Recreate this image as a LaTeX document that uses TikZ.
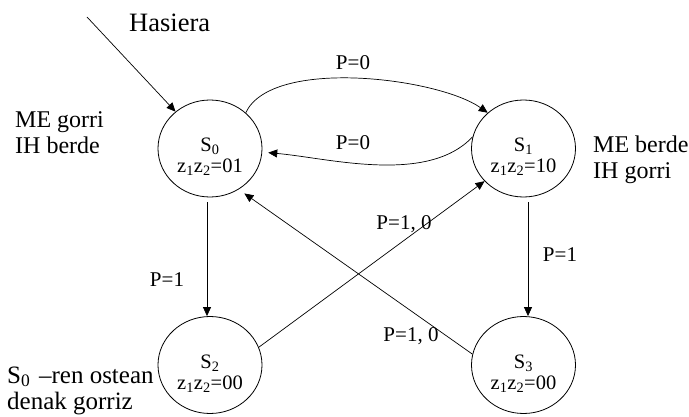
\documentclass[tikz,border=0pt]{standalone}
\usepackage{fontspec}
\setmainfont{Liberation Serif}
\usetikzlibrary{shapes.geometric,arrows.meta}

\begin{document}
\begin{tikzpicture}[x=1pt,y=1pt,
    state/.style={draw, ellipse, line width=0.8pt, minimum width=104pt, minimum height=97pt,
        inner sep=0pt, font=\fontsize{20.5}{21}\selectfont},
    edge/.style={line width=0.7pt},
    arr/.style={edge, -{Triangle[length=9pt,width=8pt]}},
    lbl/.style={inner sep=0pt, font=\fontsize{21}{24}\selectfont},
    side/.style={inner sep=0pt, align=left, anchor=base west, font=\fontsize{24}{26}\selectfont}]

    % State text: name over output
    \def\stxt#1#2{\raisebox{-3pt}[0pt][0pt]{\begin{tabular}[t]{@{}c@{}}#1\\#2\end{tabular}}}

    \useasboundingbox (0,0) rectangle (689,416);

    % States
    \node[state] (s0) at (210,267.5) {\stxt{S\textsubscript{0}}{z\textsubscript{1}z\textsubscript{2}=01}};
    \node[state] (s1) at (523.5,267.5) {\stxt{S\textsubscript{1}}{z\textsubscript{1}z\textsubscript{2}=10}};
    \node[state] (s2) at (210,51) {\stxt{S\textsubscript{2}}{z\textsubscript{1}z\textsubscript{2}=00}};
    \node[state] (s3) at (523.5,51) {\stxt{S\textsubscript{3}}{z\textsubscript{1}z\textsubscript{2}=00}};

    % Outputs (base = last line)
    \node[side] (t0) at (15,262) {ME gorri\\IH berde};
    \node[side] (t1) at (593,237) {ME berde\\IH gorri};
    \node[side, font=\fontsize{25}{26.5}\selectfont] (t2) at (7,6.5) {S\textsubscript{0}\hspace{0.35em}–ren ostean\\denak gorriz};

    % Start
    \coordinate (in0) at (87,399);
    \node[anchor=base west, inner sep=0pt, font=\fontsize{26.5}{30}\selectfont] (hasiera) at (129,384) {Hasiera};
    \draw[arr] (in0) -- (s0);

    % Transitions
    \draw[arr] (s0.45) to[out=65,in=145,looseness=0.65] (s1.135);
    \draw[arr, shorten >=6pt] (s1.167) to[out=227,in=-5,looseness=0.8] (s0.-4);
    \draw[arr, shorten <=5pt] ([xshift=-3pt]s0.south) -- ([xshift=-3pt]s2.north);
    \draw[arr, shorten <=5pt] ([xshift=4.5pt]s1.south) -- ([xshift=4.5pt]s3.north);
    \draw[arr] (s2.20) -- (s1.220);
    \draw[arr, shorten >=7pt] (s3.168) -- (s0.305);

    % Conditions
    \node[lbl] (p01) at (353,353) {P=0};
    \node[lbl] (p10) at (353,273) {P=0};
    \node[lbl] (p02) at (167,136) {P=1};
    \node[lbl] (p13) at (560,161) {P=1};
    \node[lbl] (p21) at (404,192) {P=1, 0};
    \node[lbl] (p30) at (411,79.5) {P=1, 0};

\end{tikzpicture}
\end{document}
